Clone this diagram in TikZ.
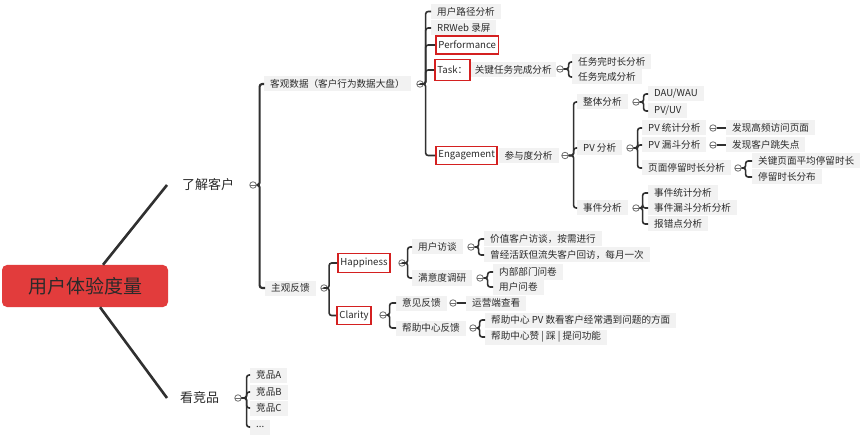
\documentclass[tikz,border=0pt]{standalone}
\usepackage{fontspec}
\setmainfont{Noto Sans CJK SC}
\definecolor{txt}{HTML}{2A2A2A}
\definecolor{ln}{HTML}{303030}
\definecolor{bx}{HTML}{F2F2F2}
\definecolor{rf}{HTML}{D42020}
\definecolor{rootc}{HTML}{E23C3C}
\definecolor{togc}{HTML}{707070}
\newcommand\mmkids[3]{\foreach \k in {#3}{\draw[conn] (#1.east) -- ++(#2,0) |- (\k.west);}}
\begin{document}
\begin{tikzpicture}[x=1pt,y=-1pt,
  leaf/.style={fill=bx, text=txt, font=\fontsize{9.6}{11}\selectfont, inner xsep=6pt, inner ysep=0pt, minimum height=15pt, anchor=west},
  redfr/.style={draw=rf, line width=1.9pt, fill=white, text=txt, font=\fontsize{9.6}{11}\selectfont, inner xsep=2.5pt, inner ysep=0pt, minimum height=18pt, anchor=west},
  big/.style={text=txt, font=\fontsize{13}{15}\selectfont, inner sep=0pt, anchor=west},
  rootbox/.style={rounded corners=5pt, fill=rootc, minimum width=166pt, minimum height=42pt, text=txt, font=\fontsize{19}{22}\selectfont},
  tog/.style={circle, draw=togc, fill=white, line width=0.8pt, minimum size=6.5pt, inner sep=0pt,
    path picture={\draw[togc,line width=0.8pt] (path picture bounding box.west) -- (path picture bounding box.east);}},
  conn/.style={draw=ln, line width=1.6pt, rounded corners=2.5pt},
  mainln/.style={draw=ln, line width=2.6pt}
]
\useasboundingbox[fill=white] (0,0) rectangle (866,435);

% root and first level
\node[rootbox] (root) at (85,286) {用户体验度量};
\node[big] (k1) at (182,185) {了解客户};
\node[tog] (c1) at (253,185) {};
\node[big] (k2) at (180,398) {看竞品};
\node[tog] (c2) at (238,398) {};
\coordinate (r1) at ([xshift=18pt]root.north);
\coordinate (r2) at ([xshift=15pt]root.south);
\draw[mainln] (r1) -- ([xshift=-15pt]k1.west);
\draw[mainln] (r2) -- ([xshift=-13pt]k2.west);

% 了解客户
\node[leaf] (o1) at (264,84) {客观数据（客户行为数据大盘）};
\node[leaf] (o2) at (265,288) {主观反馈};
\begin{scope}[conn/.append style={line width=2.1pt}]
\mmkids{c1}{3}{o1,o2}
\end{scope}

% 客观数据
\node[tog] (co1) at (420,84) {};
\node[leaf] (a1) at (431,11.5) {用户路径分析};
\node[leaf] (a2) at (431,28) {RRWeb 录屏};
\node[redfr] (a3) at (435,45) {Performance};
\node[redfr, minimum height=21pt] (a4) at (434,70) {Task：};
\node[leaf, inner xsep=4pt] (a4b) at (a4.east) {关键任务完成分析};
\node[redfr] (a5) at (435,155.5) {Engagement};
\node[leaf] (a5b) at (a5.east) {参与度分析};
\mmkids{co1}{2}{a1,a2,a3,a4,a5}

% Task
\node[tog] (ct) at (560,69) {};
\node[leaf] (t1) at (572,62) {任务完时长分析};
\node[leaf] (t2) at (572,77) {任务完成分析};
\mmkids{ct}{5}{t1,t2}

% Engagement
\node[tog] (ce) at (565,155.5) {};
\node[leaf] (e1) at (577,102) {整体分析};
\node[leaf] (e2) at (577,148) {PV 分析};
\node[leaf] (e3) at (577,208) {事件分析};
\mmkids{ce}{5}{e1,e2,e3}

\node[tog] (ce1) at (636,102) {};
\node[leaf] (e11) at (648,94) {DAU/WAU};
\node[leaf] (e12) at (648,111) {PV/UV};
\mmkids{ce1}{4}{e11,e12}

\node[tog] (ce2) at (630,148) {};
\node[leaf] (e21) at (642,128) {PV 统计分析};
\node[leaf] (e22) at (642,145) {PV 漏斗分析};
\node[leaf] (e23) at (642,168) {页面停留时长分析};
\mmkids{ce2}{4}{e21,e22,e23}

\node[tog] (ce21) at (713,128) {};
\node[leaf] (f21) at (726,128) {发现高频访问页面};
\draw[conn] (ce21.east) -- (f21.west);
\node[tog] (ce22) at (713,145) {};
\node[leaf] (f22) at (726,145) {发现客户跳失点};
\draw[conn] (ce22.east) -- (f22.west);

\node[tog] (ce23) at (738,168) {};
\node[leaf] (g1) at (752,161) {关键页面平均停留时长};
\node[leaf] (g2) at (752,177) {停留时长分布};
\mmkids{ce23}{4}{g1,g2}

\node[tog] (ce3) at (636,208) {};
\node[leaf] (h1) at (648,193) {事件统计分析};
\node[leaf] (h2) at (648,208) {事件漏斗分析分析};
\node[leaf] (h3) at (648,224) {报错点分析};
\mmkids{ce3}{3}{h1,h2,h3}

% 主观反馈
\node[tog] (co2) at (324,288) {};
\node[redfr, minimum height=19pt] (p1) at (337,263) {Happiness};
\node[redfr] (p2) at (336,315.5) {Clarity};
\mmkids{co2}{1.5}{p1,p2}

\node[tog] (cp1) at (402,263) {};
\node[leaf] (q1) at (412,247) {用户访谈};
\node[leaf] (q2) at (412,278) {满意度调研};
\mmkids{cp1}{2}{q1,q2}

\node[tog] (cq1) at (471,247) {};
\node[leaf] (r1n) at (484,239) {价值客户访谈，按需进行};
\node[leaf] (r2n) at (484,255) {曾经活跃但流失客户回访，每月一次};
\mmkids{cq1}{4}{r1n,r2n}

\node[tog] (cq2) at (480,278) {};
\node[leaf] (r3n) at (493,272) {内部部门问卷};
\node[leaf] (r4n) at (493,287) {用户问卷};
\mmkids{cq2}{4}{r3n,r4n}

\node[tog] (cp2) at (383,315) {};
\node[leaf] (s1) at (396,303) {意见反馈};
\node[leaf] (s2) at (396,328) {帮助中心反馈};
\mmkids{cp2}{3}{s1,s2}

\node[tog] (cs1) at (453,303) {};
\node[leaf] (s11) at (466,303) {运营端查看};
\draw[conn] (cs1.east) -- (s11.west);

\node[tog] (cs2) at (473,328) {};
\node[leaf] (s21) at (485,320) {帮助中心 PV 数看客户经常遇到问题的方面};
\node[leaf] (s22) at (485,337) {帮助中心赞 | 踩 | 提问功能};
\mmkids{cs2}{3}{s21,s22}

% 看竞品
\node[leaf] (v1) at (250,375) {竞品A};
\node[leaf] (v2) at (250,392) {竞品B};
\node[leaf] (v3) at (250,408) {竞品C};
\node[leaf] (v4) at (250,427) {...};
\mmkids{c2}{5}{v1,v2,v3,v4}
\end{tikzpicture}
\end{document}
